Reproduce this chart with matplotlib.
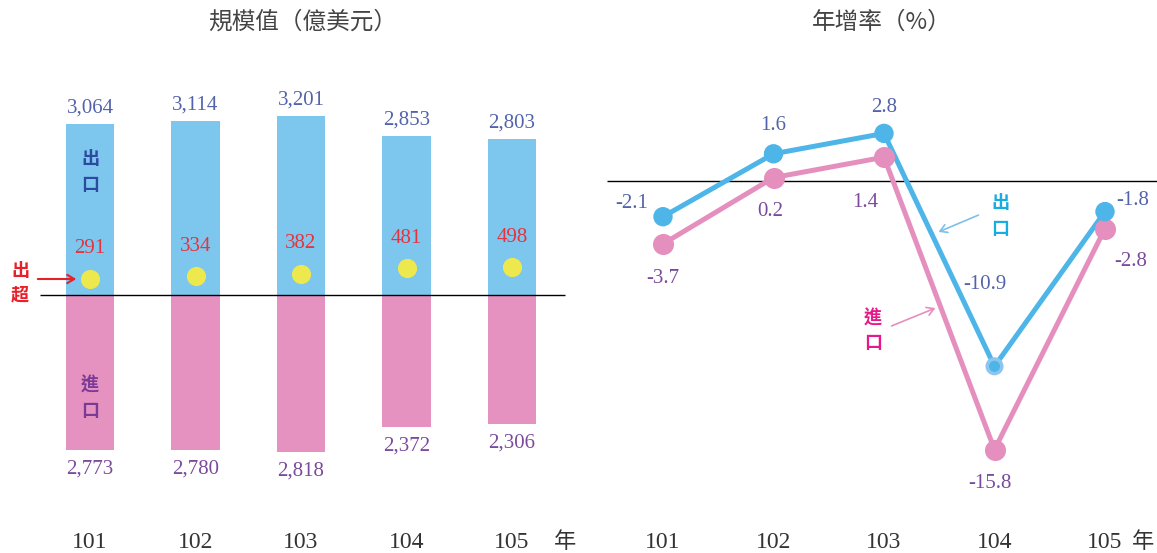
import matplotlib

matplotlib.use("Agg")
import matplotlib.pyplot as plt

# data
years = ["101", "102", "103", "104", "105"]
exports = [3064, 3114, 3201, 2853, 2803]        # 億美元
imports = [2773, 2780, 2818, 2372, 2306]
surplus = [291, 334, 382, 481, 498]
exp_growth = [-2.1, 1.6, 2.8, -10.9, -1.8]      # %
imp_growth = [-3.7, 0.2, 1.4, -15.8, -2.8]

W, H = 1157, 553
CJK = ["Noto Sans CJK TC", "DejaVu Sans"]
NUM = ["Liberation Serif", "DejaVu Serif"]

C_EXP_BAR = "#7dc6ee"
C_IMP_BAR = "#e592c0"
C_EXP_LINE = "#4db5e7"
C_IMP_LINE = "#e48fbe"
C_EXP_TXT = "#5263ab"
C_IMP_TXT = "#7a4a9c"

fig = plt.figure(figsize=(W / 100, H / 100), dpi=100)


def px_axes(x0, x1):
    ax = fig.add_axes([x0 / W, 0, (x1 - x0) / W, 1])
    ax.set_axis_off()
    return ax


# ---------------- left: 規模值 ----------------
bx0, bdx, bzero, bs = 90, 105.5, 295, 0.0558
axl = px_axes(0, 600)
axl.set_xlim((0 - bx0) / bdx, (600 - bx0) / bdx)
axl.set_ylim(-(H - bzero) / bs, bzero / bs)
xs = list(range(len(years)))
axl.bar(xs, exports, width=0.455, color=C_EXP_BAR, zorder=1)
axl.bar(xs, [-v for v in imports], width=0.455, color=C_IMP_BAR, zorder=1)
axl.hlines(0, (40 - bx0) / bdx, (565 - bx0) / bdx, color="black", lw=1, zorder=2)
axl.scatter(xs, surplus, s=190, color="#ede84e", zorder=3, linewidths=0)
for i in xs:
    axl.annotate(f"{exports[i]:,}", (i, exports[i]), xytext=(0, 16), textcoords="offset pixels",
                 ha="center", va="center", fontsize=15, color=C_EXP_TXT, family=NUM)
    axl.annotate(f"{imports[i]:,}", (i, -imports[i]), xytext=(0, -19), textcoords="offset pixels",
                 ha="center", va="center", fontsize=15, color=C_IMP_TXT, family=NUM)
    axl.annotate(f"{surplus[i]}", (i, surplus[i]), xytext=(0, 30), textcoords="offset pixels",
                 ha="center", va="center", fontsize=15, color="#e3343f", family=NUM)
    axl.text(i, 1 - 543 / H, years[i], transform=axl.get_xaxis_transform(),
             ha="center", va="center", fontsize=17, color="#333333", family=NUM)
axl.text((565 - bx0) / bdx, 1 - 541 / H, "年", transform=axl.get_xaxis_transform(),
         ha="center", va="center", fontsize=16, color="#333333", family=CJK)

# labels inside first bars
for txt, y, col in [("出", 158, "#2c4aa0"), ("口", 185, "#2c4aa0"),
                    ("進", 385, "#7b3a96"), ("口", 411, "#7b3a96")]:
    fig.text(90 / W, 1 - y / H, txt, ha="center", va="center", fontsize=13,
             color=col, family=CJK, weight="bold")
for txt, y in [("出", 270), ("超", 295)]:
    fig.text(20 / W, 1 - y / H, txt, ha="center", va="center", fontsize=13,
             color="#e8202a", family=CJK, weight="bold")
fig.add_artist(matplotlib.patches.FancyArrowPatch(
    (35 / W, 1 - 279 / H), (79 / W, 1 - 279 / H), transform=fig.transFigure,
    arrowstyle="->,head_length=5,head_width=3", color="#e8202a", lw=1.5))

# ---------------- right: 年增率 ----------------
lx0, ldx, lzero, ls = 663, 110.5, 181, 17.0
axr = px_axes(580, W)
axr.set_xlim((580 - lx0) / ldx, (W - lx0) / ldx)
axr.set_ylim(-(H - lzero) / ls, lzero / ls)
axr.hlines(0, (607 - lx0) / ldx, (W - lx0) / ldx, color="black", lw=1, zorder=1)
axr.plot(xs, imp_growth, color=C_IMP_LINE, lw=3.6, zorder=2)
axr.plot(xs, exp_growth, color=C_EXP_LINE, lw=3.6, zorder=3)
axr.scatter(xs, imp_growth, s=230, color=C_IMP_LINE, zorder=4, linewidths=0)
exp_sizes = [195, 195, 195, 110, 195]
exp_edges = [C_EXP_LINE, C_EXP_LINE, C_EXP_LINE, "#8cc6ee", C_EXP_LINE]
exp_lw = [0, 0, 0, 2.5, 0]
axr.scatter(xs, exp_growth, s=exp_sizes, color=C_EXP_LINE, edgecolors=exp_edges,
            linewidths=exp_lw, zorder=5)

exp_off = [(-31, 13), (0, 28), (0, 26), (-10, 82), (28, 11)]
imp_off = [(0, -35), (-3, -34), (-19, -45), (-5, -34), (26, -33)]
for i in xs:
    axr.annotate(f"{exp_growth[i]}", (i, exp_growth[i]), xytext=exp_off[i], textcoords="offset pixels",
                 ha="center", va="center", fontsize=15, color=C_EXP_TXT, family=NUM)
    axr.annotate(f"{imp_growth[i]}", (i, imp_growth[i]), xytext=imp_off[i], textcoords="offset pixels",
                 ha="center", va="center", fontsize=15, color=C_IMP_TXT, family=NUM)
    axr.text(i, 1 - 543 / H, years[i], transform=axr.get_xaxis_transform(),
             ha="center", va="center", fontsize=17, color="#333333", family=NUM)
axr.text((1143 - lx0) / ldx, 1 - 541 / H, "年", transform=axr.get_xaxis_transform(),
         ha="center", va="center", fontsize=16, color="#333333", family=CJK)

for txt, y in [("出", 203), ("口", 229)]:
    fig.text(1000 / W, 1 - y / H, txt, ha="center", va="center", fontsize=13,
             color="#17ace2", family=CJK, weight="bold")
for txt, y in [("進", 318), ("口", 343)]:
    fig.text(873 / W, 1 - y / H, txt, ha="center", va="center", fontsize=13,
             color="#e6198a", family=CJK, weight="bold")
fig.add_artist(matplotlib.patches.FancyArrowPatch(
    (981 / W, 1 - 214 / H), (936 / W, 1 - 233 / H), transform=fig.transFigure,
    arrowstyle="->,head_length=5,head_width=3", color="#7fbfea", lw=1.2))
fig.add_artist(matplotlib.patches.FancyArrowPatch(
    (889 / W, 1 - 327 / H), (938 / W, 1 - 307 / H), transform=fig.transFigure,
    arrowstyle="->,head_length=5,head_width=3", color="#e48fbe", lw=1.2))

# titles
fig.text(303 / W, 1 - 22 / H, "規模值（億美元）", ha="center", va="center",
         fontsize=17, color="#444444", family=CJK)
fig.text(882 / W, 1 - 22 / H, "年增率（%）", ha="center", va="center",
         fontsize=17, color="#444444", family=CJK)

fig.savefig("out.png", dpi=100, facecolor="white")
